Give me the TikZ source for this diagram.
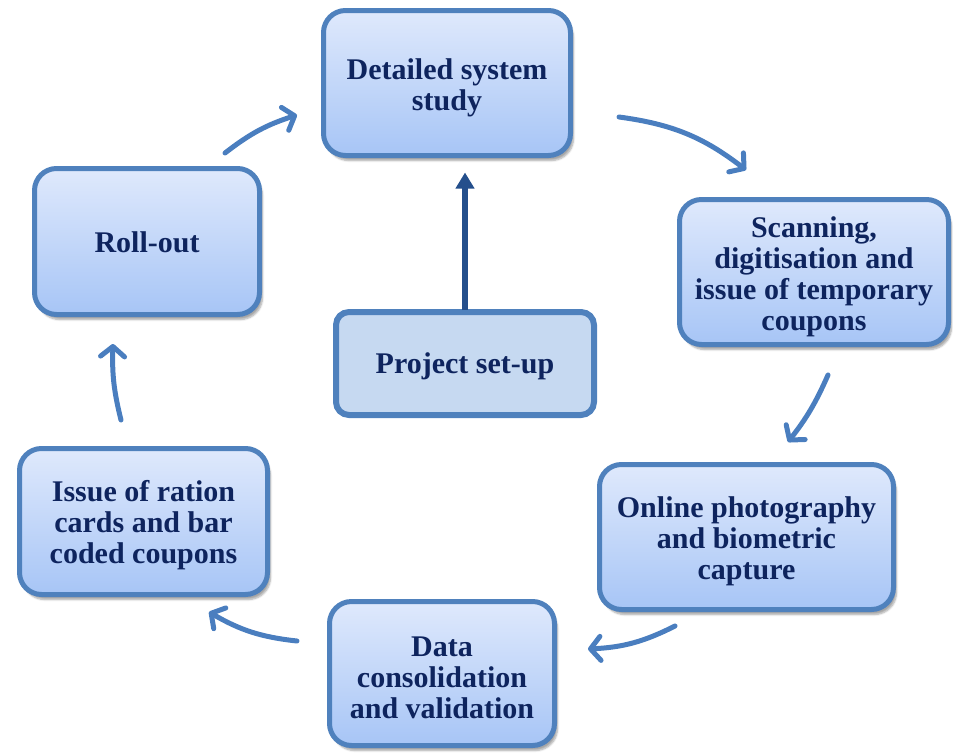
\documentclass[tikz,border=0pt]{standalone}
\usepackage{fontspec}
\setmainfont{Liberation Serif}
\usetikzlibrary{arrows.meta,shadows.blur}
\definecolor{bordblue}{HTML}{4F81BD}
\definecolor{toplight}{HTML}{DFE9FC}
\definecolor{botlight}{HTML}{A7C5F6}
\definecolor{txtnavy}{RGB}{14,36,94}
\definecolor{projfill}{HTML}{C6D9F1}
\definecolor{darkarrow}{RGB}{36,79,140}
\definecolor{curvearrow}{HTML}{4A7EBF}
\tikzset{
  stepnode/.style={draw=bordblue, line width=5pt, rounded corners=22pt,
    top color=toplight, bottom color=botlight,
    blur shadow={shadow xshift=3pt, shadow yshift=-5pt, shadow blur steps=6, shadow opacity=35}},
  steptext/.style={align=center, text=txtnavy, inner sep=0pt,
    font=\bfseries\fontsize{30}{31}\selectfont},
  projnode/.style={draw=bordblue, line width=6pt, rounded corners=13pt,
    fill=projfill},
  cyc/.style={draw=curvearrow, line width=5pt, line cap=round,
    -{Straight Barb[length=10pt,width=24pt,round]}},
  upar/.style={draw=darkarrow, line width=6pt, -{Triangle[length=16pt,width=18pt]}}
}
\begin{document}
\begin{tikzpicture}[x=1pt,y=-1pt]
\useasboundingbox (0,0) rectangle (953,753);
\node[stepnode, minimum width=247pt, minimum height=145pt] (det) at (447,83) {};
\node[stepnode, minimum width=269pt, minimum height=145pt] (scan) at (814,272) {};
\node[stepnode, minimum width=294pt, minimum height=145pt] (online) at (746.5,537) {};
\node[stepnode, minimum width=225pt, minimum height=144pt] (data) at (442,673.5) {};
\node[stepnode, minimum width=248pt, minimum height=146pt] (issue) at (143.5,521.5) {};
\node[stepnode, minimum width=225pt, minimum height=146pt] (roll) at (147,241.5) {};
\node[projnode, minimum width=258pt, minimum height=103pt] (proj) at (465,363.5) {};

\node[steptext] (detT) at ([yshift=-5pt]det.center) {Detailed system\\study};
\node[steptext] (scanT) at ([yshift=-5pt]scan.center) {Scanning,\\digitisation and\\issue of temporary\\coupons};
\node[steptext] (onlineT) at ([yshift=-4pt]online.center) {Online photography\\and biometric\\capture};
\node[steptext] (dataT) at ([yshift=-4pt]data.center) {Data\\consolidation\\and validation};
\node[steptext] (issueT) at ([yshift=-4pt]issue.center) {Issue of ration\\cards and bar\\coded coupons};
\node[steptext] (rollT) at ([yshift=-1pt]roll.center) {Roll-out};
\node[steptext] (projT) at ([yshift=-3pt]proj.center) {Project set-up};

\coordinate (a1s) at (225,153);  \coordinate (a1e) at (297,115);
\coordinate (a2s) at (619,117);  \coordinate (a2e) at (746,170);
\coordinate (a3s) at (828,375);  \coordinate (a3e) at (788,442);
\coordinate (a4s) at (675,626);  \coordinate (a4e) at (588,649);
\coordinate (a5s) at (297,641);  \coordinate (a5e) at (209,612);
\coordinate (a6s) at (121,420);  \coordinate (a6e) at (113,344);
\coordinate (uptip) at ([yshift=-14.5pt]proj.north |- det.south);

\draw[cyc] (a1s) to[bend left=10] (a1e);
\draw[cyc] (a2s) to[bend left=15] (a2e);
\draw[cyc] (a3s) to[bend left=7] (a3e);
\draw[cyc] (a4s) to[bend left=12] (a4e);
\draw[cyc] (a5s) to[bend left=12] (a5e);
\draw[cyc] (a6s) to[bend left=8] (a6e);
\draw[upar] ([yshift=-1pt]proj.north) -- (uptip);
\end{tikzpicture}
\end{document}
